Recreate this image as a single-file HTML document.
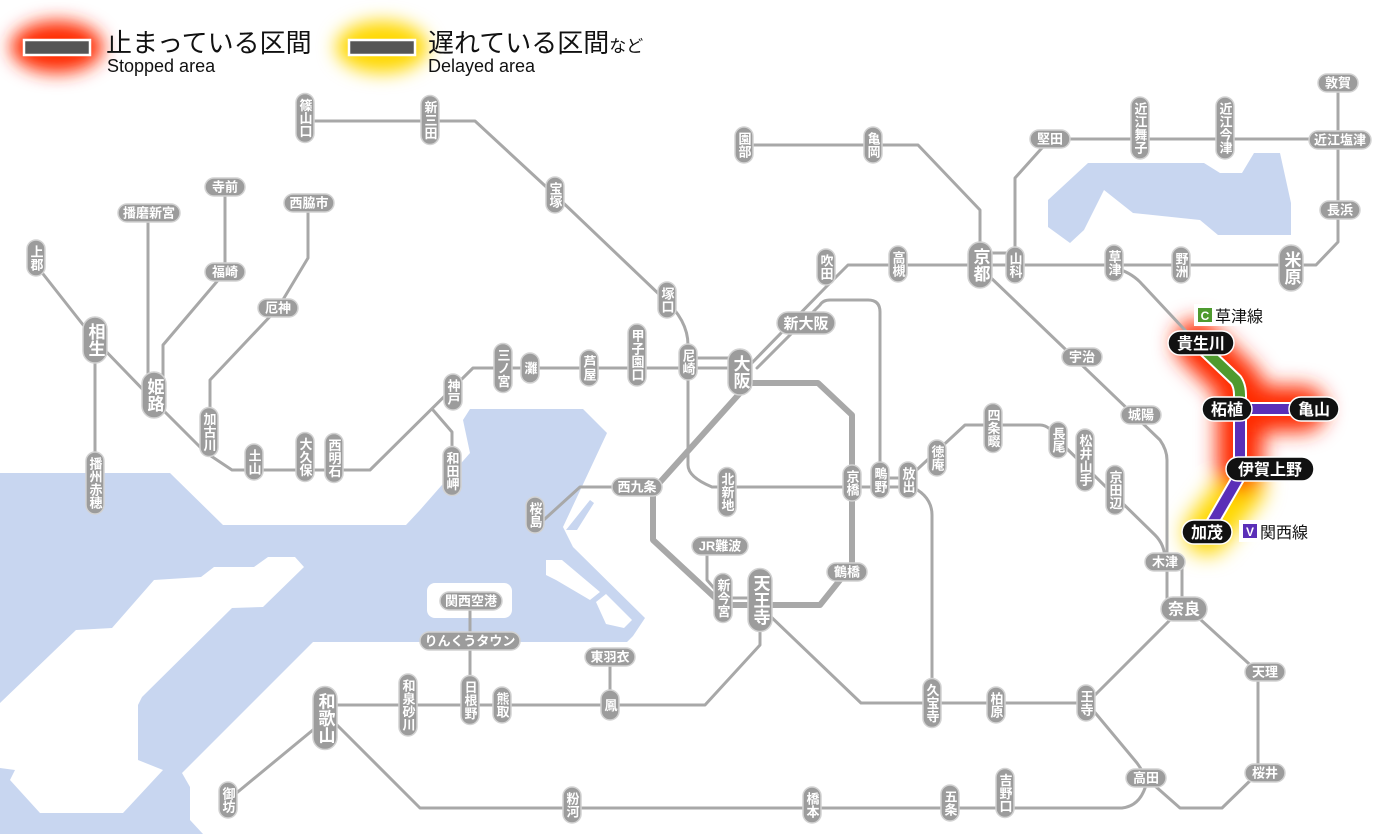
<!DOCTYPE html>
<html><head><meta charset="utf-8"><style>
html,body{margin:0;padding:0;background:#fff;}
svg{display:block;font-family:"Liberation Sans","Noto Sans CJK JP",sans-serif;}
.ln{fill:none;stroke:#a8a8a8;stroke-width:3;stroke-linejoin:round;stroke-linecap:round;}
.pl rect{fill:#9c9c9c;stroke:#d2d2d2;stroke-width:1.5;}
.pl text{fill:#fff;font-size:13px;font-weight:bold;text-anchor:middle;}
.pl text.v{writing-mode:vertical-rl;}
.pl text.big{font-size:17px;}
.bk rect{fill:#111;stroke:#fff;stroke-width:1.5;}
.bk text{fill:#fff;font-size:16px;font-weight:bold;text-anchor:middle;}
</style></head><body>
<svg width="1400" height="834" viewBox="0 0 1400 834" xmlns="http://www.w3.org/2000/svg">
<defs>
<filter id="bl" x="-50%" y="-50%" width="200%" height="200%"><feGaussianBlur stdDeviation="10"/></filter>
<filter id="bl2" x="-50%" y="-50%" width="200%" height="200%"><feGaussianBlur stdDeviation="9"/></filter>
</defs>
<!-- water -->
<g fill="#c8d6f0">
<polygon points="0,473 170,473 223,525 406,525 420,510 470,453 463,420 470,409 583,409 607,433 563,527 573,547 645,618 633,636 627,642 313,642 182,773 190,787 190,820 203,834 0,834"/>
<polygon points="1048,200 1088,163 1204,163 1220,173 1242,173 1254,153 1280,153 1291,203 1291,235 1218,235 1200,220 1133,213 1104,190 1084,230 1070,243 1048,227"/>
</g>
<g fill="#fff">
<polygon points="0,703 76,630 112,628 154,580 201,577 214,567 254,567 268,557 295,557 304,567 263,607 232,608 142,697 138,705 138,760 163,770 123,813 40,813 10,780 15,770 0,768"/>
<polygon points="546,560 562,560 600,592 590,600 556,580 546,575"/>
<polygon points="596,602 606,594 632,620 624,628 606,624"/>
<rect x="427" y="583" width="85" height="35" rx="8"/>
</g>
<polygon points="590,500 594,503 577,530 566,530" fill="#c8d6f0"/>

<!-- glows -->
<g filter="url(#bl)">
<path d="M1207,532 L1242,487" stroke="#ffd800" stroke-width="46" fill="none" stroke-linecap="round"/>
<path d="M1197,343 L1240,385 V469 M1240,409 H1303" stroke="#ff2a00" stroke-width="46" fill="none" stroke-linecap="round" stroke-linejoin="round"/>
</g>
<g filter="url(#bl2)">
<ellipse cx="57" cy="47" rx="46" ry="26" fill="#ff2a00"/>
<ellipse cx="382" cy="47" rx="46" ry="26" fill="#ffd800"/>
</g>

<!-- lines -->
<g class="ln">
<path d="M305,121 H475 L555,195 L663,298 Q688,320 688,345"/>
<path d="M36,265 L95,340 L153,400 L205,452 L232,470 H370 L473,368 H748"/>
<path d="M688,358 H740"/>
<path d="M433,410 L452,432 V478"/>
<path d="M95,340 V485"/>
<path d="M148,213 V395"/>
<path d="M225,187 V272 L163,345 V392"/>
<path d="M308,203 V258 L278,308 L210,380 V432"/>
<path d="M688,360 V465 Q688,477 712,487 H908"/>
<path d="M880,478 H908"/>
<path d="M908,478 L965,425 H1040 Q1050,425 1058,440 L1155,535 Q1165,545 1165,560"/>
<path d="M908,485 Q932,495 932,515 V703"/>
<path d="M757,368 L820,305 Q823,300 830,300 H868 Q880,300 880,312 V478"/>
<path d="M745,370 L826,287 L848,265 H1316 L1338,242 V83"/>
<path d="M1015,265 V178 L1050,139 H1340"/>
<path d="M744,145 H918 L980,210 V265"/>
<path d="M980,253 H1015"/>
<path d="M988,275 L1160,440 Q1167,450 1167,460 V610"/>
<path d="M1182,560 V610"/>
<path d="M1115,268 Q1130,272 1140,282 L1197,343"/>
<path d="M1180,610 L1087,703"/>
<path d="M1190,610 L1258,672 V773 L1222,808 H1180 L1146,778"/>
<path d="M1087,703 L1137,763 Q1146,775 1146,785 Q1140,806 1122,808 H420 L330,718"/>
<path d="M1087,703 H861 L767,613"/>
<path d="M760,620 V645 L705,705 H325"/>
<path d="M470,601 V705"/>
<path d="M610,657 V705"/>
<path d="M325,720 L228,800"/>
<path d="M707,546 V580 L720,595"/>
<path d="M723,598 H760"/>
<path d="M637,487 H580 L536,527"/>
<path d="M740,383 H818 L852,415 V565 L820,605 H723 L653,540 V490 L740,393" stroke-width="6"/>
</g>

<!-- colored lines -->
<g fill="none" stroke-linejoin="round">
<path d="M1197,343 L1236,380 Q1240,386 1240,395 V409" stroke="#fff" stroke-width="14"/>
<path d="M1240,409 H1303 M1240,409 V475 L1207,532" stroke="#fff" stroke-width="14"/>
<path d="M1197,343 L1236,380 Q1240,386 1240,395 V409" stroke="#4f9a2e" stroke-width="10"/>
<path d="M1240,409 H1303 M1240,409 V475 L1207,532" stroke="#5a2fb8" stroke-width="10"/>
</g>

<!-- legend -->
<rect x="24" y="40" width="66" height="15" fill="#555" stroke="#fff" stroke-width="2.5"/>
<rect x="349" y="40" width="66" height="15" fill="#555" stroke="#fff" stroke-width="2.5"/>
<text x="106" y="52" font-size="26" fill="#111">止まっている区間</text>
<text x="107" y="72" font-size="18" fill="#111">Stopped area</text>
<text x="428" y="52" font-size="26" fill="#111">遅れている区間<tspan font-size="17">など</tspan></text>
<text x="428" y="72" font-size="18" fill="#111">Delayed area</text>

<!-- route labels -->
<rect x="1194" y="304" width="80" height="22" fill="#fff"/>
<rect x="1198" y="308" width="14" height="14" fill="#4f9a2e"/>
<text x="1205" y="320" font-size="12" fill="#fff" text-anchor="middle" font-weight="bold">C</text>
<text x="1215" y="322" font-size="16" fill="#111">草津線</text>
<rect x="1239" y="520" width="78" height="22" fill="#fff"/>
<rect x="1243" y="524" width="14" height="14" fill="#5a2fb8"/>
<text x="1250" y="536" font-size="12" fill="#fff" text-anchor="middle" font-weight="bold">V</text>
<text x="1260" y="538" font-size="16" fill="#111">関西線</text>

<!-- station pills -->
<g class="pl">
<rect x="296" y="93.5" width="18" height="49" rx="9"/><text class="v" x="305" y="118">篠山口</text>
<rect x="421" y="95.5" width="18" height="49" rx="9"/><text class="v" x="430" y="120">新三田</text>
<rect x="546" y="177" width="18" height="36" rx="9"/><text class="v" x="555" y="195">宝塚</text>
<rect x="658" y="282" width="18" height="36" rx="9"/><text class="v" x="667" y="300">塚口</text>
<rect x="679" y="344" width="18" height="36" rx="9"/><text class="v" x="688" y="362">尼崎</text>
<rect x="628" y="324" width="18" height="62" rx="9"/><text class="v" x="637" y="355">甲子園口</text>
<rect x="580" y="350" width="18" height="36" rx="9"/><text class="v" x="589" y="368">芦屋</text>
<rect x="521" y="353" width="18" height="30" rx="9"/><text class="v" x="530" y="368">灘</text>
<rect x="494" y="343.5" width="18" height="49" rx="9"/><text class="v" x="503" y="368">三ノ宮</text>
<rect x="444" y="374" width="18" height="36" rx="9"/><text class="v" x="453" y="392">神戸</text>
<rect x="443" y="446.5" width="18" height="49" rx="9"/><text class="v" x="452" y="471">和田岬</text>
<rect x="325" y="433.5" width="18" height="49" rx="9"/><text class="v" x="334" y="458">西明石</text>
<rect x="296" y="432.5" width="18" height="49" rx="9"/><text class="v" x="305" y="457">大久保</text>
<rect x="245" y="444" width="18" height="36" rx="9"/><text class="v" x="254" y="462">土山</text>
<rect x="200" y="407.5" width="18" height="49" rx="9"/><text class="v" x="209" y="432">加古川</text>
<rect x="27" y="240" width="18" height="36" rx="9"/><text class="v" x="36" y="258">上郡</text>
<rect x="86" y="452" width="18" height="62" rx="9"/><text class="v" x="95" y="483">播州赤穂</text>
<rect x="817" y="249" width="18" height="36" rx="9"/><text class="v" x="826" y="267">吹田</text>
<rect x="889" y="246" width="18" height="36" rx="9"/><text class="v" x="898" y="264">高槻</text>
<rect x="1006" y="247" width="18" height="36" rx="9"/><text class="v" x="1015" y="265">山科</text>
<rect x="1105" y="245" width="18" height="36" rx="9"/><text class="v" x="1114" y="263">草津</text>
<rect x="1172" y="247" width="18" height="36" rx="9"/><text class="v" x="1181" y="265">野洲</text>
<rect x="1216" y="97" width="18" height="62" rx="9"/><text class="v" x="1225" y="128">近江今津</text>
<rect x="1131" y="97" width="18" height="62" rx="9"/><text class="v" x="1140" y="128">近江舞子</text>
<rect x="864" y="127" width="18" height="36" rx="9"/><text class="v" x="873" y="145">亀岡</text>
<rect x="735" y="127" width="18" height="36" rx="9"/><text class="v" x="744" y="145">園部</text>
<rect x="1106" y="465.5" width="18" height="49" rx="9"/><text class="v" x="1115" y="490">京田辺</text>
<rect x="1076" y="429" width="18" height="62" rx="9"/><text class="v" x="1085" y="460">松井山手</text>
<rect x="1049" y="422" width="18" height="36" rx="9"/><text class="v" x="1058" y="440">長尾</text>
<rect x="984" y="403.5" width="18" height="49" rx="9"/><text class="v" x="993" y="428">四条畷</text>
<rect x="928" y="440" width="18" height="36" rx="9"/><text class="v" x="937" y="458">徳庵</text>
<rect x="899" y="462" width="18" height="36" rx="9"/><text class="v" x="908" y="480">放出</text>
<rect x="871" y="462" width="18" height="36" rx="9"/><text class="v" x="880" y="480">鴫野</text>
<rect x="843" y="465" width="18" height="36" rx="9"/><text class="v" x="852" y="483">京橋</text>
<rect x="718" y="467.5" width="18" height="49" rx="9"/><text class="v" x="727" y="492">北新地</text>
<rect x="526" y="497" width="18" height="36" rx="9"/><text class="v" x="535" y="515">桜島</text>
<rect x="714" y="573.5" width="18" height="49" rx="9"/><text class="v" x="723" y="598">新今宮</text>
<rect x="601" y="690" width="18" height="30" rx="9"/><text class="v" x="610" y="705">鳳</text>
<rect x="493" y="687" width="18" height="36" rx="9"/><text class="v" x="502" y="705">熊取</text>
<rect x="461" y="675.5" width="18" height="49" rx="9"/><text class="v" x="470" y="700">日根野</text>
<rect x="399" y="674" width="18" height="62" rx="9"/><text class="v" x="408" y="705">和泉砂川</text>
<rect x="219" y="782" width="18" height="36" rx="9"/><text class="v" x="228" y="800">御坊</text>
<rect x="563" y="787" width="18" height="36" rx="9"/><text class="v" x="572" y="805">粉河</text>
<rect x="803" y="787" width="18" height="36" rx="9"/><text class="v" x="812" y="805">橋本</text>
<rect x="941" y="785" width="18" height="36" rx="9"/><text class="v" x="950" y="803">五条</text>
<rect x="996" y="768.5" width="18" height="49" rx="9"/><text class="v" x="1005" y="793">吉野口</text>
<rect x="1077" y="685" width="18" height="36" rx="9"/><text class="v" x="1086" y="703">王寺</text>
<rect x="987" y="687" width="18" height="36" rx="9"/><text class="v" x="996" y="705">柏原</text>
<rect x="923" y="678.5" width="18" height="49" rx="9"/><text class="v" x="932" y="703">久宝寺</text>
<rect x="142" y="372" width="24" height="46" rx="12"/><text class="v big" x="154" y="395">姫路</text>
<rect x="83" y="317" width="24" height="46" rx="12"/><text class="v big" x="95" y="340">相生</text>
<rect x="728" y="349" width="24" height="46" rx="12"/><text class="v big" x="740" y="372">大阪</text>
<rect x="968" y="242" width="24" height="46" rx="12"/><text class="v big" x="980" y="265">京都</text>
<rect x="1279" y="245" width="24" height="46" rx="12"/><text class="v big" x="1291" y="268">米原</text>
<rect x="748" y="568.5" width="24" height="63" rx="12"/><text class="v big" x="760" y="600">天王寺</text>
<rect x="313" y="686.5" width="24" height="63" rx="12"/><text class="v big" x="325" y="718">和歌山</text>
<rect x="118" y="204" width="62" height="18" rx="9"/><text x="149" y="217.5">播磨新宮</text>
<rect x="205" y="178" width="40" height="18" rx="9"/><text x="225" y="191.5">寺前</text>
<rect x="205" y="263" width="40" height="18" rx="9"/><text x="225" y="276.5">福崎</text>
<rect x="284" y="194" width="50" height="18" rx="9"/><text x="309" y="207.5">西脇市</text>
<rect x="258" y="299" width="40" height="18" rx="9"/><text x="278" y="312.5">厄神</text>
<rect x="1320" y="201" width="40" height="18" rx="9"/><text x="1340" y="214.5">長浜</text>
<rect x="1309" y="131" width="62" height="18" rx="9"/><text x="1340" y="144.5">近江塩津</text>
<rect x="1318" y="74" width="40" height="18" rx="9"/><text x="1338" y="87.5">敦賀</text>
<rect x="1030" y="130" width="40" height="18" rx="9"/><text x="1050" y="143.5">堅田</text>
<rect x="1062" y="348" width="40" height="18" rx="9"/><text x="1082" y="361.5">宇治</text>
<rect x="1121" y="406" width="40" height="18" rx="9"/><text x="1141" y="419.5">城陽</text>
<rect x="612" y="478" width="50" height="18" rx="9"/><text x="637" y="491.5">西九条</text>
<rect x="692" y="537" width="56" height="18" rx="9"/><text x="720" y="550.5">JR難波</text>
<rect x="827" y="563" width="40" height="18" rx="9"/><text x="847" y="576.5">鶴橋</text>
<rect x="440" y="592" width="62" height="18" rx="9"/><text x="471" y="605.5">関西空港</text>
<rect x="420" y="632" width="100" height="18" rx="9"/><text x="470" y="645.5">りんくうタウン</text>
<rect x="585" y="648" width="50" height="18" rx="9"/><text x="610" y="661.5">東羽衣</text>
<rect x="1126" y="769" width="40" height="18" rx="9"/><text x="1146" y="782.5">高田</text>
<rect x="1245" y="764" width="40" height="18" rx="9"/><text x="1265" y="777.5">桜井</text>
<rect x="1245" y="663" width="40" height="18" rx="9"/><text x="1265" y="676.5">天理</text>
<rect x="1145" y="553" width="40" height="18" rx="9"/><text x="1165" y="566.5">木津</text>
<rect x="777" y="312" width="58" height="22" rx="11"/><text x="806" y="328.5" style="font-size:15px">新大阪</text>
<rect x="1161" y="597" width="46" height="24" rx="12"/><text x="1184" y="614.5" style="font-size:16px">奈良</text>
</g>

<!-- disrupted stations -->
<g class="bk">
<rect x="1168" y="331" width="66" height="24" rx="12"/><text x="1201" y="349">貴生川</text>
<rect x="1202" y="397" width="50" height="24" rx="12"/><text x="1227" y="415">柘植</text>
<rect x="1289" y="397" width="50" height="24" rx="12"/><text x="1314" y="415">亀山</text>
<rect x="1226" y="457" width="88" height="24" rx="12"/><text x="1270" y="475">伊賀上野</text>
<rect x="1182" y="520" width="50" height="24" rx="12"/><text x="1207" y="538">加茂</text>
</g>
</svg>
</body></html>
